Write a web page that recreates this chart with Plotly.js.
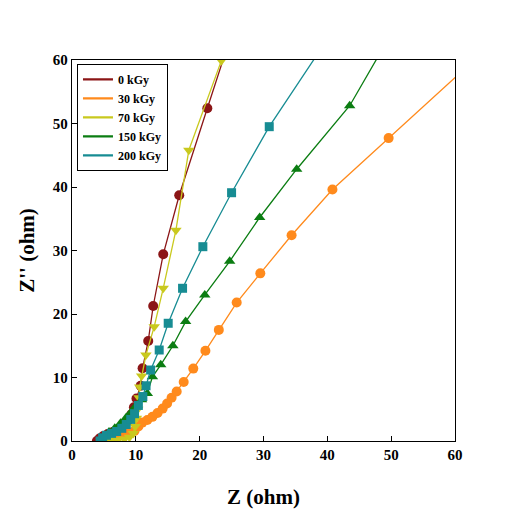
<!DOCTYPE html>
<html>
<head>
<meta charset="utf-8">
<script src="https://cdn.plot.ly/plotly-3.0.1.min.js"></script>
<style>html,body{margin:0;padding:0;background:#fff;}#chart{width:507px;height:516px;}</style>
</head>
<body>
<div id="chart"></div>
<script>
// Series labels
var seriesNames = ["0 kGy", "30 kGy", "70 kGy", "150 kGy", "200 kGy"];

// 0 kGy
var x0 = [3.9, 4.3, 4.9, 5.6, 6.4, 7.2, 8.0, 8.7, 9.3, 9.7, 10.1, 10.75, 11.06, 11.94, 12.72, 14.29, 16.8, 21.2, 24.5];
var y0 = [0.0, 0.4, 0.8, 1.1, 1.4, 1.8, 2.4, 3.2, 4.2, 5.3, 6.7, 8.7, 11.45, 15.75, 21.26, 29.4, 38.7, 52.4, 62.6];

// 30 kGy
var x30 = [5.0, 5.8, 6.8, 7.8, 8.8, 9.8, 10.4, 11.0, 11.8, 12.6, 13.4, 14.2, 14.9, 15.6, 16.4, 17.5, 19.0, 20.9, 23.0, 25.8, 29.5, 34.4, 40.8, 49.6, 62.5];
var y30 = [0.0, 0.3, 0.6, 0.9, 1.2, 1.6, 2.3, 2.9, 3.3, 3.8, 4.4, 5.1, 5.9, 6.8, 7.8, 9.3, 11.4, 14.2, 17.5, 21.8, 26.4, 32.4, 39.6, 47.7, 59.5];

// 70 kGy
var x70 = [4.6, 5.3, 6.2, 7.2, 8.2, 9.0, 9.6, 9.9, 10.1, 10.3, 10.5, 10.6, 10.91, 11.58, 12.88, 14.29, 16.28, 18.3, 23.4];
var y70 = [0.0, 0.1, 0.2, 0.2, 0.3, 0.6, 1.2, 2.3, 3.6, 5.0, 6.8, 8.5, 10.24, 13.54, 18.0, 24.05, 33.2, 45.8, 59.9];

// 150 kGy
var x150 = [4.5, 5.0, 5.8, 6.7, 7.6, 8.5, 9.3, 10.0, 10.9, 11.8, 12.6, 13.9, 15.8, 17.8, 20.8, 24.7, 29.4, 35.2, 43.5, 48.5];
var y150 = [0.0, 0.8, 1.4, 2.0, 2.8, 3.7, 4.6, 5.5, 6.5, 7.5, 10.1, 12.0, 15.0, 18.8, 23.0, 28.3, 35.2, 42.8, 52.8, 61.5];

// 200 kGy
var x200 = [4.4, 4.8, 5.4, 6.2, 7.0, 7.8, 8.5, 9.2, 9.8, 10.4, 11.1, 11.6, 12.32, 13.66, 15.07, 17.32, 20.5, 25.0, 30.9, 38.9];
var y200 = [0.0, 0.5, 0.9, 1.2, 1.5, 2.0, 2.6, 3.4, 4.3, 5.6, 7.0, 8.7, 11.18, 14.33, 18.54, 24.05, 30.6, 39.1, 49.5, 61.6];

var xTicks = [0, 10, 20, 30, 40, 50, 60];
var yTicks = [0, 10, 20, 30, 40, 50, 60];

var colors = ["#8B1516", "#FF8A1C", "#C9C91E", "#0B7D12", "#178C93"];
var symbols = ["circle", "circle", "triangle-down", "triangle-up", "square"];
var sizes = [10, 10, 10, 10, 9];
var xs = [x0, x30, x70, x150, x200];
var ys = [y0, y30, y70, y150, y200];

var FONT = "Liberation Serif, Times New Roman, serif";
var traces = [];
for (var i = 0; i < 5; i++) {
  traces.push({
    x: xs[i], y: ys[i], type: "scatter", mode: "lines+markers",
    name: seriesNames[i], showlegend: false,
    line: {color: colors[i], width: 1.3},
    marker: {color: colors[i], symbol: symbols[i], size: sizes[i], line: {width: 0}}
  });
}
for (var j = 0; j < 5; j++) {
  traces.push({
    x: [null], y: [null], type: "scatter", mode: "lines",
    name: seriesNames[j], showlegend: true,
    line: {color: colors[j], width: 2.2}
  });
}

var layout = {
  width: 507, height: 516,
  margin: {l: 72, r: 52, t: 60, b: 75},
  paper_bgcolor: "#fff", plot_bgcolor: "#fff",
  font: {family: FONT, color: "#000"},
  showlegend: true,
  legend: {
    x: 0.013, y: 0.99, xanchor: "left", yanchor: "top",
    bgcolor: "#fff", bordercolor: "#000", borderwidth: 1,
    font: {family: FONT, size: 12, weight: "bold", color: "#000"},
    itemwidth: 30, tracegroupgap: 0
  },
  xaxis: {
    range: [0, 60], tickvals: xTicks, ticktext: xTicks.map(String),
    ticks: "inside", ticklen: 5, tickwidth: 1, tickcolor: "#000",
    showline: true, linecolor: "#000", linewidth: 1.3, mirror: true,
    showgrid: false, zeroline: false,
    tickfont: {family: FONT, size: 15, weight: "bold", color: "#000"},
    title: {text: "Z (ohm)", font: {family: FONT, size: 21, weight: "bold", color: "#000"}, standoff: 27}
  },
  yaxis: {
    range: [0, 60], tickvals: yTicks, ticktext: yTicks.map(String),
    ticks: "inside", ticklen: 5, tickwidth: 1, tickcolor: "#000",
    showline: true, linecolor: "#000", linewidth: 1.3, mirror: true,
    showgrid: false, zeroline: false,
    tickfont: {family: FONT, size: 15, weight: "bold", color: "#000"},
    title: {text: "Z'' (ohm)", font: {family: FONT, size: 21, weight: "bold", color: "#000"}, standoff: 12}
  }
};

Plotly.newPlot("chart", traces, layout, {displayModeBar: false, staticPlot: true});
</script>
</body>
</html>
